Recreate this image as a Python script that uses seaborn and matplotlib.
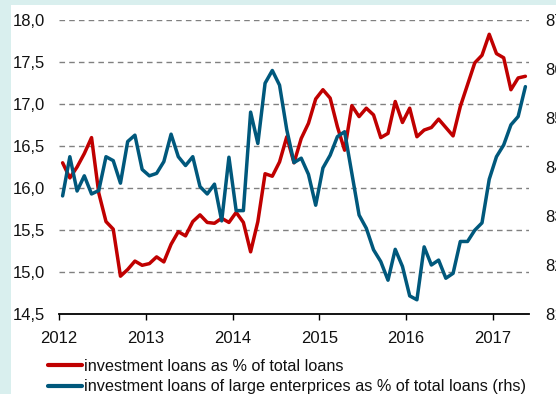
import numpy as np
import pandas as pd
import matplotlib
matplotlib.use("Agg")
import matplotlib.pyplot as plt
from matplotlib.patches import Rectangle
from matplotlib.lines import Line2D
import seaborn as sns

# ---- data (monthly, Jan 2012 - May 2017) ----
red_values = [16.30, 16.12, 16.25, 16.41, 16.60, 15.94, 15.60, 15.51, 14.95, 15.03,
              15.13, 15.08, 15.10, 15.18, 15.12, 15.33, 15.48, 15.43, 15.60, 15.68,
              15.59, 15.58, 15.64, 15.59, 15.71, 15.59, 15.24, 15.60, 16.17, 16.14,
              16.31, 16.61, 16.30, 16.59, 16.77, 17.06, 17.17, 17.07, 16.73, 16.45,
              16.98, 16.85, 16.95, 16.87, 16.60, 16.65, 17.03, 16.78, 16.95, 16.61,
              16.69, 16.72, 16.82, 16.72, 16.62, 16.97, 17.23, 17.49, 17.58, 17.83,
              17.60, 17.55, 17.17, 17.31, 17.33]
blue_values = [83.41, 84.21, 83.51, 83.82, 83.45, 83.52, 84.21, 84.13, 83.67, 84.52,
               84.65, 83.95, 83.82, 83.87, 84.11, 84.67, 84.21, 84.03, 84.21, 83.60,
               83.45, 83.65, 82.90, 84.20, 83.11, 83.11, 85.12, 84.48, 85.71, 85.97,
               85.67, 84.76, 84.09, 84.18, 83.85, 83.22, 83.98, 84.24, 84.62, 84.72,
               83.87, 83.02, 82.75, 82.31, 82.07, 81.69, 82.32, 81.97, 81.37, 81.29,
               82.37, 82.00, 82.10, 81.73, 81.83, 82.48, 82.48, 82.71, 82.86, 83.75,
               84.21, 84.45, 84.86, 85.03, 85.64]
start_year = 2012
year_ticks = [2012, 2013, 2014, 2015, 2016, 2017]
left_ticks = [14.5, 15.0, 15.5, 16.0, 16.5, 17.0, 17.5, 18.0]
right_ticks = [81, 82, 83, 84, 85, 86, 87]
red_label = "investment loans as % of total loans"
blue_label = "investment loans of large enterprices as % of total loans (rhs)"

months = np.arange(len(red_values))
x_years = start_year + (months + 0.5) / 12.0
df = pd.DataFrame({"x": x_years, "red": red_values, "blue": blue_values})

RED = "#C00000"
BLUE = "#00587C"
BG = "#D9EFEE"
FS = 12
LFS = 11.7

sns.set_theme(style="white")
plt.rcParams["font.family"] = ["Liberation Sans", "DejaVu Sans"]
plt.rcParams["lines.scale_dashes"] = False

W, H = 556, 394
fig = plt.figure(figsize=(W / 100, H / 100), dpi=100)
fig.patch.set_facecolor(BG)
fig.patches.append(Rectangle((11 / W, 0), 1, 1 - 5 / H, transform=fig.transFigure,
                             facecolor="white", edgecolor="none", zorder=0))

ax = fig.add_axes([59 / W, 1 - 314 / H, (529 - 59) / W, (314 - 20) / H])
ax.set_facecolor("none")
ax2 = ax.twinx()
ax2.set_facecolor("none")

sns.lineplot(data=df, x="x", y="red", ax=ax, color=RED, lw=2.5, zorder=3,
             label=red_label, legend=False)
sns.lineplot(data=df, x="x", y="blue", ax=ax2, color=BLUE, lw=2.5, zorder=3,
             label=blue_label, legend=False)
ax.set_zorder(1)
ax2.set_zorder(2)

ax.set_xlim(start_year, 2017 + 5 / 12)
ax.set_ylim(14.5, 18.0)
ax2.set_ylim(81, 87)

ax.set_xticks(year_ticks)
ax.set_xticklabels([str(y) for y in year_ticks])
ax.set_yticks(left_ticks)
ax.set_yticklabels([f"{v:.1f}".replace(".", ",") for v in left_ticks])
ax2.set_yticks(right_ticks)
ax2.set_yticklabels([str(v) for v in right_ticks])

for g in left_ticks[1:]:
    ax.axhline(g, color="#808080", lw=1.0, ls=(0, (4, 3)), zorder=1)

for a in (ax, ax2):
    for s in ("top", "left", "right", "bottom"):
        a.spines[s].set_visible(False)
    a.set_xlabel("")
    a.set_ylabel("")
    a.grid(False)
ax.spines["bottom"].set_visible(True)
ax.spines["bottom"].set_color("black")
ax.spines["bottom"].set_linewidth(1.3)

ax.tick_params(axis="x", direction="out", length=4, width=1.0, color="black",
               labelsize=FS, pad=8, labelcolor="#111111", bottom=True)
ax.tick_params(axis="y", length=0, labelsize=FS, pad=10, labelcolor="#111111")
ax2.tick_params(axis="y", length=0, labelsize=FS, pad=11.5, labelcolor="#111111")

handles = [Line2D([], [], color=RED, lw=3), Line2D([], [], color=BLUE, lw=3)]
fig.legend(handles, [red_label, blue_label], loc="upper left",
           bbox_to_anchor=(48 / W, 1 - 359 / H), frameon=False, fontsize=LFS,
           handlelength=2.12, handletextpad=0.1, borderpad=0, borderaxespad=0,
           labelspacing=0.32, labelcolor="#111111")

fig.savefig("out.png", dpi=100, facecolor=fig.get_facecolor())
